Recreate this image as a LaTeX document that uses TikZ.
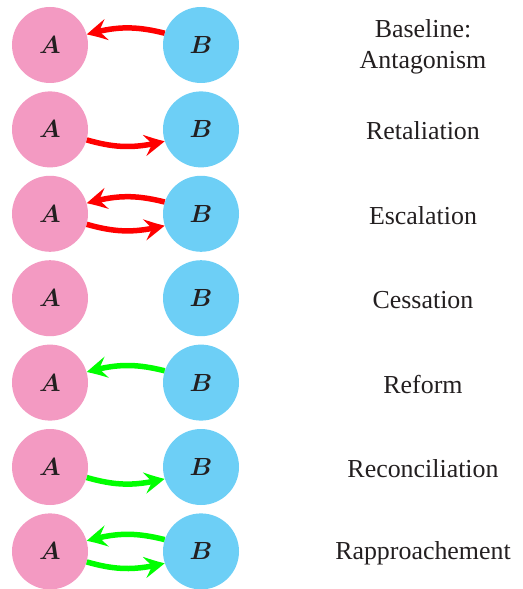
\documentclass[tikz,border=0pt]{standalone}
\usepackage{fontspec}
\setmainfont{Liberation Serif}
\usetikzlibrary{arrows.meta,bending}
\definecolor{pinkA}{RGB}{243,154,194}
\definecolor{blueB}{RGB}{109,207,246}
\definecolor{inkc}{RGB}{35,31,32}
\definecolor{redc}{RGB}{255,0,0}
\definecolor{greenc}{RGB}{0,255,0}
\tikzset{
  agent/.style={circle, minimum size=76bp, inner sep=0pt, text=inkc,
    font=\fontsize{25}{30}\selectfont\boldmath},
  agentA/.style={agent, fill=pinkA},
  agentB/.style={agent, fill=blueB},
  lab/.style={align=center, text=inkc, font=\fontsize{26}{31}\selectfont},
  rel/.style={line width=5.5bp,
    -{Stealth[length=21bp,width=21bp,inset=8bp,bend]}},
  hostile/.style={rel, draw=redc},
  friendly/.style={rel, draw=greenc},
}
\begin{document}
\begin{tikzpicture}[x=1bp,y=-1bp]
\useasboundingbox (0,0) rectangle (523,589);
\foreach \i/\t in {1/{Baseline:\\Antagonism},2/Retaliation,3/Escalation,4/Cessation,5/Reform,6/Reconciliation,7/Rapproachement}{
  \pgfmathsetmacro{\yy}{45+84.4*(\i-1)}
  \node[agentA] (A\i) at (50,\yy) {$A$};
  \node[agentB] (B\i) at (201,\yy) {$B$};
  \node[lab] (L\i) at (423,\yy+1.5) {\t};
}
% Baseline
\draw[hostile] (B1.162) to[bend right=15] (A1.16);
% Retaliation
\draw[hostile] (A2.-16) to[bend right=15] (B2.198);
% Escalation
\draw[hostile] (B3.162) to[bend right=15] (A3.16);
\draw[hostile] (A3.-16) to[bend right=15] (B3.198);
% Reform
\draw[friendly] (B5.162) to[bend right=15] (A5.16);
% Reconciliation
\draw[friendly] (A6.-16) to[bend right=15] (B6.198);
% Rapproachement
\draw[friendly] (B7.162) to[bend right=15] (A7.16);
\draw[friendly] (A7.-16) to[bend right=15] (B7.198);
\end{tikzpicture}
\end{document}
